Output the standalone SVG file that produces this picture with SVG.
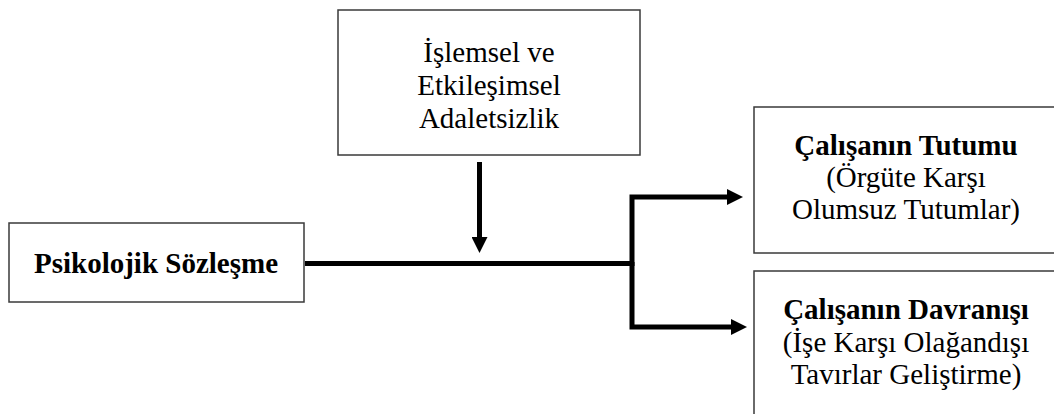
<svg xmlns="http://www.w3.org/2000/svg" width="1054" height="414" viewBox="0 0 1054 414">
  <style>
    .box { fill: #ffffff; stroke: #3a3a3a; stroke-width: 1.5; }
    text { font-family: 'Liberation Serif', 'Times New Roman', serif; font-size: 29px; fill: #000000; text-anchor: middle; }
    .bold { font-weight: bold; }
    .wire { fill: none; stroke: #000000; stroke-width: 5; stroke-linejoin: miter; stroke-linecap: butt; }
  </style>
  <defs>
    <marker id="head" viewBox="0 0 16 16" markerWidth="16" markerHeight="16" markerUnits="userSpaceOnUse" refX="2" refY="8" orient="auto">
      <path d="M0,0 L16,8 L0,16 z" fill="#000000"/>
    </marker>
  </defs>
  <rect width="1054" height="414" fill="#ffffff"/>

  <!-- moderator: procedural and interactional injustice -->
  <g id="node-adaletsizlik">
    <rect class="box" x="338" y="10" width="302" height="145"/>
    <text x="489" y="62">İşlemsel ve</text>
    <text x="489" y="95">Etkileşimsel</text>
    <text x="489" y="128">Adaletsizlik</text>
  </g>

  <!-- source: psychological contract -->
  <g id="node-psikolojik">
    <rect class="box" x="9" y="223" width="295" height="79"/>
    <text class="bold" x="156" y="273">Psikolojik Sözleşme</text>
  </g>

  <!-- outcome: employee attitude -->
  <g id="node-tutum">
    <rect class="box" x="754" y="107" width="310" height="146"/>
    <text class="bold" x="906" y="155">Çalışanın Tutumu</text>
    <text x="906" y="187">(Örgüte Karşı</text>
    <text x="906" y="219">Olumsuz Tutumlar)</text>
  </g>

  <!-- outcome: employee behaviour -->
  <g id="node-davranis">
    <rect class="box" x="754" y="271" width="310" height="160"/>
    <text class="bold" x="906" y="319">Çalışanın Davranışı</text>
    <text x="906" y="352">(İşe Karşı Olağandışı</text>
    <text x="906" y="384">Tavırlar Geliştirme)</text>
  </g>

  <!-- connectors -->
  <g id="connectors">
    <path class="wire" d="M305,263.5 H634"/>
    <path class="wire" d="M632,266 V197 H729" marker-end="url(#head)"/>
    <path class="wire" d="M632,262 V327 H733" marker-end="url(#head)"/>
    <path class="wire" d="M479.5,162 V239" marker-end="url(#head)"/>
  </g>
</svg>
